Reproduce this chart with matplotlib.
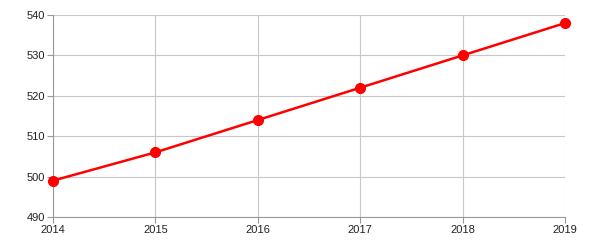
import matplotlib
matplotlib.use("Agg")
import matplotlib.pyplot as plt

years = [2014, 2015, 2016, 2017, 2018, 2019]
values = [499, 506, 514, 522, 530, 538]
y_ticks = [490, 500, 510, 520, 530, 540]

plt.rcParams['font.family'] = ['Liberation Sans', 'DejaVu Sans']

fig = plt.figure(figsize=(6, 2.5), dpi=100)
ax = fig.add_axes([53 / 600, 33 / 250, 512 / 600, 202 / 250])

ax.plot(years, values, color='#ff0000', linewidth=1.8, marker='o',
        markersize=7, zorder=3, clip_on=False)

ax.set_xlim(2014, 2019)
ax.set_ylim(490, 540)
ax.set_xticks(years)
ax.set_yticks(y_ticks)
ax.grid(True, color='#c8c8c8', linewidth=0.8)
ax.set_axisbelow(True)

for side in ['top', 'right']:
    ax.spines[side].set_visible(False)
for side in ['left', 'bottom']:
    ax.spines[side].set_color('#999999')
    ax.spines[side].set_linewidth(0.8)

ax.tick_params(axis='both', length=4, width=0.8, color='#999999',
               labelsize=8, labelcolor='#222222', pad=2)

fig.savefig("out.png", dpi=100)
